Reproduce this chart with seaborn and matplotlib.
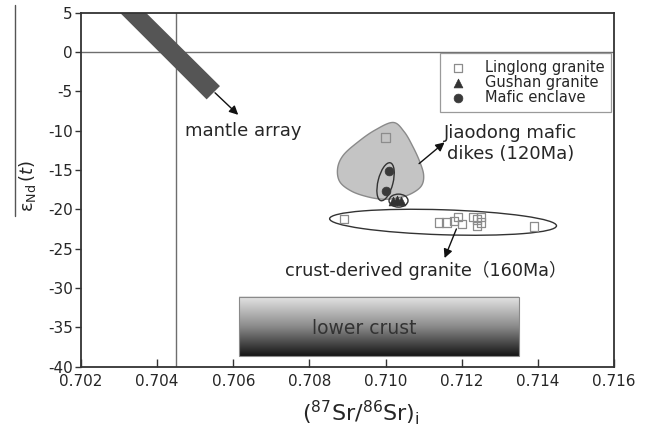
import numpy as np
import pandas as pd
import matplotlib
matplotlib.use("Agg")
import matplotlib.pyplot as plt
import seaborn as sns
from matplotlib.patches import Polygon, Ellipse, Rectangle
from matplotlib.lines import Line2D
from matplotlib.colors import LinearSegmentedColormap
from matplotlib.transforms import ScaledTranslation

# ---- sample data: (87Sr/86Sr)i and eNd(t) ----
linglong_sr = [0.7100, 0.7089, 0.7114, 0.7116, 0.7118, 0.7119, 0.7120,
               0.7123, 0.7124, 0.7125, 0.7125, 0.7124, 0.7139]
linglong_nd = [-10.9, -21.2, -21.7, -21.7, -21.5, -21.0, -21.9,
               -21.0, -21.3, -21.0, -21.7, -22.1, -22.2]
gushan_sr = [0.7102, 0.7103, 0.7104]
gushan_nd = [-19.0, -18.8, -18.9]
enclave_sr = [0.7101, 0.7100]
enclave_nd = [-15.2, -17.7]

x_ticks = [0.702, 0.704, 0.706, 0.708, 0.710, 0.712, 0.714, 0.716]
y_ticks = [5, 0, -5, -10, -15, -20, -25, -30, -35, -40]

# reference lines
bulk_earth_sr = 0.7045
chur_nd = 0.0

# mantle array band (corners)
mantle_sr = [0.70250, 0.70318, 0.70565, 0.70530]
mantle_nd = [7.5, 7.5, -4.35, -6.04]

# Jiaodong mafic dike field outline
dike_sr = [0.71020, 0.70972, 0.70928, 0.70889, 0.70874, 0.70880, 0.70911,
           0.70954, 0.70994, 0.71033, 0.71068, 0.71094, 0.71100, 0.71090,
           0.71072, 0.71049]
dike_nd = [-8.97, -9.95, -11.43, -13.13, -14.82, -16.52, -17.71,
           -18.43, -18.72, -18.56, -18.0, -17.03, -15.67, -13.98,
           -12.07, -10.16]

# lower crust field
lower_crust_sr = [0.70615, 0.71350]
lower_crust_nd = [-38.7, -31.1]

df = pd.concat([
    pd.DataFrame({"sr": linglong_sr, "nd": linglong_nd, "group": "Linglong granite"}),
    pd.DataFrame({"sr": gushan_sr, "nd": gushan_nd, "group": "Gushan granite"}),
    pd.DataFrame({"sr": enclave_sr, "nd": enclave_nd, "group": "Mafic enclave"}),
])

sns.set_style("ticks")
plt.rcParams["font.family"] = ["DejaVu Sans", "Noto Sans CJK SC"]
plt.rcParams["mathtext.fontset"] = "dejavusans"

fig = plt.figure(figsize=(6.53, 4.34), dpi=100)
ax = fig.add_axes([81 / 653, 1 - 366.7 / 434, 533 / 653, 354.2 / 434])
ax.set_xlim(0.702, 0.716)
ax.set_ylim(-40, 5)


def closed_spline(xs, ys, n=20):
    """Periodic Catmull-Rom curve through the outline vertices."""
    p = np.column_stack([xs, ys])
    m = len(p)
    out = []
    for i in range(m):
        p0, p1, p2, p3 = p[i - 1], p[i], p[(i + 1) % m], p[(i + 2) % m]
        t = np.linspace(0, 1, n, endpoint=False)[:, None]
        seg = 0.5 * ((2 * p1) + (-p0 + p2) * t + (2 * p0 - 5 * p1 + 4 * p2 - p3) * t ** 2
                     + (-p0 + 3 * p1 - 3 * p2 + p3) * t ** 3)
        out.append(seg)
    return np.vstack(out)


# reference lines
ax.axhline(chur_nd, color="#6e6e6e", lw=1.0, zorder=1)
ax.axvline(bulk_earth_sr, color="#6e6e6e", lw=1.0, zorder=1)

# mantle array
ax.add_patch(Polygon(np.column_stack([mantle_sr, mantle_nd]), closed=True,
                     facecolor="#555555", edgecolor="none", zorder=2))

# lower crust gradient box
grad = np.linspace(0, 1, 256)[:, None]
cmap_lc = LinearSegmentedColormap.from_list("lc", ["#e6e6e6", "#8c8c8c", "#151515"])
ax.imshow(grad, cmap=cmap_lc, aspect="auto", origin="upper",
          extent=[lower_crust_sr[0], lower_crust_sr[1], lower_crust_nd[0], lower_crust_nd[1]],
          zorder=2)
ax.add_patch(Rectangle((lower_crust_sr[0], lower_crust_nd[0]),
                       lower_crust_sr[1] - lower_crust_sr[0],
                       lower_crust_nd[1] - lower_crust_nd[0],
                       facecolor="none", edgecolor="#8a8a8a", lw=0.8, zorder=3))
ax.text(0.70945, -35.2, "lower crust", color="#333333", fontsize=13.5,
        ha="center", va="center", zorder=4)

# Jiaodong mafic dike field
blob = closed_spline(dike_sr, dike_nd)
ax.add_patch(Polygon(blob, closed=True, facecolor="#c4c4c4", edgecolor="#8a8a8a",
                     lw=1.0, zorder=2))


def px_ellipse(cx, cy, w_px, h_px, angle):
    trans = fig.dpi_scale_trans + ScaledTranslation(cx, cy, ax.transData)
    e = Ellipse((0, 0), w_px / 100, h_px / 100, angle=angle, transform=trans,
                facecolor="none", edgecolor="#333333", lw=1.0, zorder=3)
    ax.add_patch(e)


px_ellipse(0.71151, -21.65, 227, 25, -1.8)   # crust-derived granite
px_ellipse(0.71000, -16.5, 15, 39, -14)      # mafic enclaves
px_ellipse(0.71034, -18.9, 19, 13, 0)        # Gushan granite

# samples
sub = df[df.group == "Linglong granite"]
sns.scatterplot(data=sub, x="sr", y="nd", marker="s", s=36, color="#8c8c8c",
                edgecolor="#8c8c8c", linewidth=0.9, label="Linglong granite",
                ax=ax, zorder=5)
ax.collections[-1].set_facecolor("none")
sub = df[df.group == "Gushan granite"]
sns.scatterplot(data=sub, x="sr", y="nd", marker="^", s=40, color="#333333",
                edgecolor="#333333", linewidth=0.5, label="Gushan granite",
                ax=ax, zorder=5)
sub = df[df.group == "Mafic enclave"]
sns.scatterplot(data=sub, x="sr", y="nd", marker="o", s=40, color="#3a3a3a",
                edgecolor="#3a3a3a", linewidth=0.5, label="Mafic enclave",
                ax=ax, zorder=5)

# annotations
arrow = dict(arrowstyle="-|>", color="#111111", lw=1.0, mutation_scale=13,
             shrinkA=0, shrinkB=0)
ax.annotate("", xy=(0.70613, -8.0), xytext=(0.70552, -5.2), arrowprops=arrow, zorder=6)
ax.text(0.70473, -10.07, "mantle array", fontsize=13, ha="left", va="center")

ax.annotate("", xy=(0.71155, -11.5), xytext=(0.71088, -14.2), arrowprops=arrow, zorder=6)
ax.text(0.71329, -11.64, "Jiaodong mafic\ndikes (120Ma)", fontsize=13,
        ha="center", va="center", multialignment="center", linespacing=1.25)

ax.annotate("", xy=(0.71155, -26.2), xytext=(0.71186, -22.5), arrowprops=arrow, zorder=6)
ax.text(0.71105, -27.75, "crust-derived granite（160Ma）", fontsize=12.7,
        ha="center", va="center")

# axes styling
ax.set_xticks(x_ticks)
ax.set_xticklabels([f"{v:.3f}" for v in x_ticks])
ax.set_yticks(y_ticks)
ax.set_yticklabels([str(v) for v in y_ticks])
ax.tick_params(axis="x", direction="in", length=6, width=1.0, labelsize=11,
               color="#333333", pad=5.5)
ax.tick_params(axis="y", direction="out", length=4, width=1.0, labelsize=11,
               color="#333333", pad=2)
for sp in ax.spines.values():
    sp.set_visible(True)
    sp.set_color("#333333")
    sp.set_linewidth(1.3)
ax.set_xlabel("")
ax.set_ylabel("")

leg = ax.legend(loc="upper right", bbox_to_anchor=(0.9944, 0.8857), fontsize=10.5,
                frameon=True, fancybox=False, edgecolor="#9a9a9a", framealpha=1,
                borderpad=0.45, labelspacing=0.02, handlelength=1.6,
                handletextpad=1.05, borderaxespad=0)
leg.get_frame().set_linewidth(0.9)

# axis titles
fig.text(361 / 653, 1 - 413 / 434, r"$(^{87}\mathrm{Sr}/^{86}\mathrm{Sr})_{\mathrm{i}}$",
         fontsize=16, ha="center", va="center")
fig.add_artist(Line2D([15 / 653, 15 / 653], [1 - 5 / 434, 1 - 216 / 434],
                      color="#555555", lw=1.0))
fig.text(27 / 653, 1 - 186 / 434, r"$\mathrm{\varepsilon}_{\mathrm{Nd}}\,(t)$",
         fontsize=13, rotation=90, ha="center", va="center")

fig.savefig("out.png", dpi=100)
